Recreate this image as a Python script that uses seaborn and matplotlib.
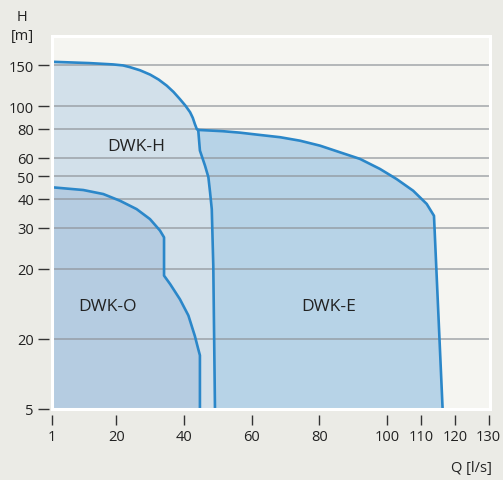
import numpy as np
import pandas as pd
import seaborn as sns
import matplotlib
matplotlib.use("Agg")
import matplotlib.pyplot as plt
from matplotlib.patches import Rectangle

# ticks
q_ticks = [1, 20, 40, 60, 80, 100, 110, 120, 130]
h_ticks = [5, 10, 20, 30, 40, 50, 60, 80, 100, 150]
h_labels = ["5", "20", "20", "30", "40", "50", "60", "80", "100", "150"]

# DWK-H envelope (top curve, then the steep right side)
h_q = [1, 12, 19, 22, 24, 27, 30, 32.5, 34.9, 36.9, 38.8, 40.4, 41.8, 42.6,
       43.2, 43.8, 44.2, 44.7, 46.2, 47.2, 47.7, 48.2, 48.65, 49.15]
h_h = [155, 153, 151, 149.5, 147, 142.5, 136.5, 130, 122.4, 115, 107.1, 100.5,
       94.1, 89, 83.8, 79.5, 79, 64.4, 55.5, 49.5, 42.6, 36.1, 20.6, 5]
split = 16  # start of the shared side with DWK-E

# DWK-E envelope
e_q = [44.2, 51.5, 56.5, 61.6, 68.4, 74.3, 80.2, 86.1, 92.0, 97.9, 102.8,
       107.7, 111.7, 113.85, 116.4]
e_h = [79, 78, 76.9, 75.4, 73.5, 71.0, 67.6, 63.3, 59.3, 53.7, 48.6,
       43.3, 38.0, 33.8, 5]

# DWK-O envelope
o_q = [1, 10.25, 16.15, 21.1, 26.0, 29.95, 32.9, 34.1, 34.1, 35.9, 38.8,
       41.3, 43.2, 44.2, 44.7, 44.7]
o_h = [44.8, 43.6, 41.9, 39.2, 36.1, 32.7, 29.2, 27.3, 18.7, 17.2, 14.8,
       12.6, 10.3, 9.05, 8.5, 5]

LINE = "#2b87c9"
C_H = "#d2e0ea"
C_E = "#b7d3e7"
C_O = "#b5cce1"

sns.set_theme(style="white")
plt.rcParams["font.family"] = ["Open Sans", "DejaVu Sans"]

fig = plt.figure(figsize=(5.03, 4.81), dpi=100, facecolor="#ebebe6")
ax = fig.add_axes([52 / 503, 71 / 481, 438 / 503, 373 / 481])
ax.set_facecolor("#f5f5f1")
ax.set_yscale("log")
ax.set_xlim(1, 130.4)
ax.set_ylim(5, 200)

# fills
ax.fill(h_q + [1], h_h + [5], color=C_H, lw=0, zorder=1)
e_fill_q = e_q + h_q[split:][::-1]
e_fill_h = e_h + h_h[split:][::-1]
ax.fill(e_fill_q, e_fill_h, color=C_E, lw=0, zorder=1.1)
ax.fill(o_q + [1], o_h + [5], color=C_O, lw=0, zorder=1.2)

# grid
for v in h_ticks[1:]:
    ax.axhline(v, color="#8e9298", alpha=0.8, lw=1.1, zorder=1.5)

# outlines
for qq, hh in [(h_q, h_h), (e_q, e_h), (o_q, o_h)]:
    df = pd.DataFrame({"Q": qq, "H": hh})
    sns.lineplot(data=df, x="Q", y="H", sort=False, estimator=None,
                 color=LINE, lw=1.9, ax=ax, zorder=3)

ax.text(25.8, 67.4, "DWK-H", ha="center", va="center", fontsize=12.5, color="#222")
ax.text(17.5, 13.85, "DWK-O", ha="center", va="center", fontsize=12.5, color="#222")
ax.text(82.8, 13.85, "DWK-E", ha="center", va="center", fontsize=12.5, color="#222")

ax.set_xticks(q_ticks)
ax.set_xticklabels([str(t) for t in q_ticks])
ax.set_yticks(h_ticks)
ax.set_yticklabels(h_labels)
ax.yaxis.set_minor_locator(matplotlib.ticker.NullLocator())
ax.set_xlabel("")
ax.set_ylabel("")

for s in ax.spines.values():
    s.set_visible(False)
ax.spines["left"].set_position(("outward", 2))
ax.spines["bottom"].set_position(("outward", 4))
ax.tick_params(axis="y", direction="out", length=8, width=1, color="#333",
               labelsize=10.5, labelcolor="#222", pad=3, left=True)
ax.tick_params(axis="x", direction="out", length=7.5, width=1, color="#333",
               labelsize=10.5, labelcolor="#222", pad=3, bottom=True)

ax.add_patch(Rectangle((0, 0), 1, 1, transform=ax.transAxes, fill=False,
                       edgecolor="white", lw=2.2, clip_on=False, zorder=5))

fig.text(22.5 / 503, 1 - 17.5 / 481, "H", ha="center", va="center",
         fontsize=10.5, color="#222")
fig.text(22 / 503, 1 - 37 / 481, "[m]", ha="center", va="center",
         fontsize=10.5, color="#222")
fig.text(471 / 503, 1 - 469 / 481, "Q [l/s]", ha="center", va="center",
         fontsize=10.5, color="#222")

fig.savefig("out.png", dpi=100, facecolor=fig.get_facecolor())
